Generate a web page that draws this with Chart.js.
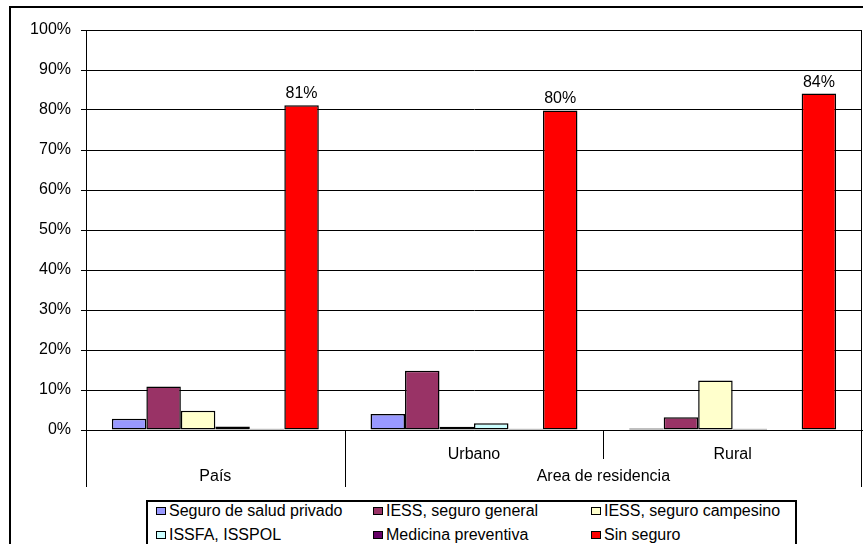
<!DOCTYPE html>
<html>
<head>
<meta charset="utf-8">
<script src="https://cdn.jsdelivr.net/npm/chart.js@4/dist/chart.umd.min.js"></script>
<style>
  html, body { margin: 0; padding: 0; background: #fff; }
  #wrap { position: relative; width: 863px; height: 544px; overflow: hidden; background: #fff; }
  #c { position: absolute; left: 0; top: 0; }
  #legend { position: absolute; left: 146px; top: 500px; width: 651px; height: 60px;
            border: 2px solid #000; box-sizing: border-box; background: #fff;
            font-family: "Liberation Sans", Arial, sans-serif; font-size: 16px; color: #000; }
  .li { position: absolute; white-space: nowrap; line-height: 18px; }
  .sw { position: absolute; width: 8px; height: 6px; border: 1px solid #000; }
</style>
</head>
<body>
<div id="wrap">
  <canvas id="c" width="863" height="544"></canvas>
  <div id="legend"></div>
</div>
<script>
// ---- data ----
const categories = ['País', 'Urbano', 'Rural'];
const tickLabels = ['', 'Urbano', 'Rural'];
const groupLabels = ['País', 'Area de residencia'];
const groupFirst = [0, 1];
const groupLast = [0, 2];
const seriesNames = ['Seguro de salud privado', 'IESS, seguro general', 'IESS, seguro campesino',
                     'ISSFA, ISSPOL', 'Medicina preventiva', 'Sin seguro'];
const seguroPrivado = [2.8, 4.0, 0.4];
const iessGeneral = [10.9, 14.8, 3.2];
const iessCampesino = [4.8, 0.8, 12.4];
const issfaIsspol = [0.9, 1.7, 0.3];
const medicinaPreventiva = [0.3, 0.3, 0.0];
const sinSeguro = [81.2, 79.9, 84.1];
const yTicks = [0, 10, 20, 30, 40, 50, 60, 70, 80, 90, 100];

const seriesValues = [seguroPrivado, iessGeneral, iessCampesino, issfaIsspol, medicinaPreventiva, sinSeguro];
const seriesColors = ['#9999FF', '#993366', '#FFFFCC', '#CCFFFF', '#660066', '#FF0000'];
const labelledSeries = 5;

const FONT = '"Liberation Sans", Arial, sans-serif';
const FSIZE = 16;

const outerBorder = {
  id: 'outerBorder',
  beforeDraw(chart) {
    const ctx = chart.ctx;
    ctx.save();
    ctx.fillStyle = '#fff';
    ctx.fillRect(0, 0, chart.width, chart.height);
    ctx.strokeStyle = '#000';
    ctx.lineWidth = 2;
    ctx.strokeRect(10, 7, chart.width + 20, chart.height + 20);
    ctx.restore();
  }
};

const categoryAxis = {
  id: 'categoryAxis',
  afterDraw(chart) {
    const ctx = chart.ctx;
    const xs = chart.scales.x;
    const area = chart.chartArea;
    const n = categories.length;
    const w = (xs.right - xs.left) / n;
    const boundary = i => Math.round(xs.getPixelForValue(0) - w / 2 + i * w) + 0.5;
    ctx.save();
    ctx.strokeStyle = '#000';
    ctx.lineWidth = 1;
    ctx.beginPath();
    ctx.moveTo(boundary(n) - 1, area.top);
    ctx.lineTo(boundary(n) - 1, area.bottom);
    ctx.stroke();
    const fullDepth = 57, halfDepth = 29;
    const groupEdges = new Set([0]);
    groupLast.forEach(l => groupEdges.add(l + 1));
    for (let i = 0; i <= n; i++) {
      const x = i === n ? boundary(n) - 1 : boundary(i);
      const d = groupEdges.has(i) ? fullDepth : halfDepth;
      ctx.beginPath();
      ctx.moveTo(x, area.bottom);
      ctx.lineTo(x, area.bottom + d);
      ctx.stroke();
    }
    ctx.fillStyle = '#000';
    ctx.font = FSIZE + 'px ' + FONT;
    ctx.textAlign = 'center';
    ctx.textBaseline = 'middle';
    groupLabels.forEach((g, k) => {
      const cx = (xs.getPixelForValue(groupFirst[k]) + xs.getPixelForValue(groupLast[k])) / 2;
      ctx.fillText(g, cx, area.bottom + 47);
    });
    ctx.restore();
  }
};

const valueLabels = {
  id: 'valueLabels',
  afterDatasetsDraw(chart) {
    const ctx = chart.ctx;
    const meta = chart.getDatasetMeta(labelledSeries);
    ctx.save();
    ctx.fillStyle = '#000';
    ctx.font = FSIZE + 'px ' + FONT;
    ctx.textAlign = 'center';
    ctx.textBaseline = 'alphabetic';
    meta.data.forEach((bar, i) => {
      ctx.fillText(Math.round(seriesValues[labelledSeries][i]) + '%', bar.x, bar.y - 7);
    });
    ctx.restore();
  }
};

Chart.defaults.font.family = FONT;
Chart.defaults.font.size = FSIZE;
Chart.defaults.color = '#000';

const chart = new Chart(document.getElementById('c'), {
  type: 'bar',
  data: {
    labels: categories,
    datasets: seriesNames.map((name, k) => ({
      label: name,
      data: seriesValues[k],
      backgroundColor: seriesColors[k],
      borderColor: '#000',
      borderWidth: 1.5,
      borderSkipped: false,
      categoryPercentage: 0.8,
      barPercentage: 1.0
    }))
  },
  options: {
    responsive: false,
    devicePixelRatio: 1,
    animation: false,
    layout: { padding: { left: 0, right: 1, top: 30, bottom: 0 } },
    plugins: { legend: { display: false }, tooltip: { enabled: false } },
    scales: {
      x: {
        grid: { display: false, drawTicks: false },
        border: { display: true, color: '#000', width: 1 },
        ticks: {
          padding: 15,
          maxRotation: 0,
          autoSkip: false,
          callback: (v, i) => tickLabels[i]
        },
        afterFit: s => { s.height = 114; }
      },
      y: {
        min: 0, max: 100,
        afterBuildTicks: s => { s.ticks = yTicks.map(v => ({ value: v })); },
        grid: { color: '#000', lineWidth: 1, tickLength: 5, drawTicks: true },
        border: { display: true, color: '#000', width: 1 },
        ticks: { padding: 10, callback: v => v + '%' },
        afterFit: s => { s.width = 86; }
      }
    }
  },
  plugins: [outerBorder, categoryAxis, valueLabels]
});

const legend = document.getElementById('legend');
const colX = [8, 225, 443];
const rowY = [0, 24];
chart.data.datasets.forEach((ds, k) => {
  const col = k % 3, row = Math.floor(k / 3);
  const sw = document.createElement('div');
  sw.className = 'sw';
  sw.style.background = ds.backgroundColor;
  sw.style.left = colX[col] + 'px';
  sw.style.top = (rowY[row] + 5) + 'px';
  legend.appendChild(sw);
  const t = document.createElement('div');
  t.className = 'li';
  t.textContent = ds.label;
  t.style.left = (colX[col] + 13) + 'px';
  t.style.top = (rowY[row] + 0) + 'px';
  legend.appendChild(t);
});
</script>
</body>
</html>
